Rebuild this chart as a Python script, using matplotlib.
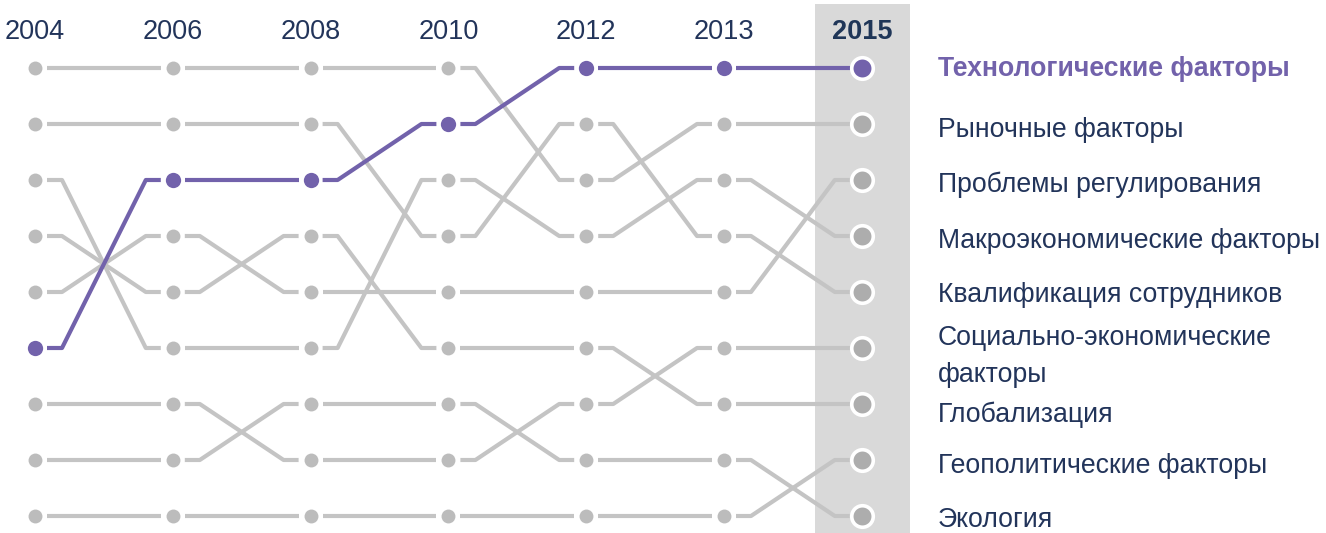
import numpy as np
import matplotlib
matplotlib.use("Agg")
import matplotlib.pyplot as plt

plt.rcParams['font.family'] = ['Liberation Sans', 'DejaVu Sans']

# ── Data ──────────────────────────────────────────────────────────────────────
years = ["2004", "2006", "2008", "2010", "2012", "2013", "2015"]

factors = [
    "Технологические факторы",
    "Рыночные факторы",
    "Проблемы регулирования",
    "Макроэкономические факторы",
    "Квалификация сотрудников",
    "Социально-экономические\nфакторы",
    "Глобализация",
    "Геополитические факторы",
    "Экология",
]

# rank of each factor in each survey year (1 = top)
rank_tech     = [6, 3, 3, 2, 1, 1, 1]
rank_market   = [1, 1, 1, 1, 3, 2, 2]
rank_regul    = [5, 4, 5, 5, 5, 5, 3]
rank_macro    = [3, 6, 6, 3, 4, 3, 4]
rank_skills   = [2, 2, 2, 4, 2, 4, 5]
rank_social   = [7, 7, 8, 8, 7, 6, 6]
rank_global   = [4, 5, 4, 6, 6, 7, 7]
rank_geopol   = [9, 9, 9, 9, 9, 9, 8]
rank_ecology  = [8, 8, 7, 7, 8, 8, 9]

ranks = [rank_tech, rank_market, rank_regul, rank_macro, rank_skills,
         rank_social, rank_global, rank_geopol, rank_ecology]

# ── Style ─────────────────────────────────────────────────────────────────────
GREY_LINE  = "#c4c4c4"
GREY_DOT   = "#bcbcbc"
GREY_LAST  = "#adadad"
PURPLE     = "#7262ab"
BAND       = "#d9d9d9"
TEXT       = "#22345a"
HIGHLIGHT  = 0          # index of highlighted factor

W, H, DPI = 1326, 533, 100
X0_PX, DX_PX = 35, 137.8     # first column, column step (px)
Y0_PX, DY_PX = 68, 56        # first row, row step (px)

fig = plt.figure(figsize=(W / DPI, H / DPI), dpi=DPI)
ax = fig.add_axes([0, 0, 1, 1])
ax.set_xlim(-X0_PX / DX_PX, (W - X0_PX) / DX_PX)
ax.set_ylim(1 + (H - Y0_PX) / DY_PX, 1 - Y0_PX / DY_PX)
ax.axis("off")

n = len(years)
xs = np.arange(n)
gap = 12 / DX_PX      # space between dot and line
stub = 15 / DX_PX     # flat part before the diagonal

# grey band behind the latest year
ax.axvspan(n - 1 - 47 / DX_PX, n - 1 + 48 / DX_PX, ymin=0, ymax=1 - 4 / H,
           color=BAND, lw=0, zorder=0)


def bump_segments(r):
    segs = []
    for i in range(n - 1):
        a, b = r[i], r[i + 1]
        sx = [i + gap, i + gap + stub, i + 1 - gap - stub, i + 1 - gap]
        sy = [a, a, b, b]
        segs.append((sx, sy))
    return segs


order = [k for k in range(len(factors)) if k != HIGHLIGHT] + [HIGHLIGHT]
for k in order:
    r = ranks[k]
    hl = k == HIGHLIGHT
    col = PURPLE if hl else GREY_LINE
    z = 5 if hl else 2
    for sx, sy in bump_segments(r):
        ax.plot(sx, sy, color=col, lw=3.0, solid_capstyle="butt",
                solid_joinstyle="round", zorder=z)
    ax.plot(xs[:-1], r[:-1], "o", ms=11 if hl else 10,
            color=PURPLE if hl else GREY_DOT, mew=0, zorder=z + 1)
    ax.plot(xs[-1], r[-1], "o", ms=15.5, mfc=PURPLE if hl else GREY_LAST,
            mec="white", mew=2.6, zorder=z + 1)

# year headers
for i, y in enumerate(years):
    last = i == n - 1
    ax.text(i, 1 - 36 / DY_PX, y, ha="center", va="center", fontsize=19.5,
            color="#1f3658" if last else TEXT,
            fontweight="bold" if last else "normal")

# factor labels in final order
label_dy = [1, 6, 5, 5, 3, 9, 11, 6, 4]   # px nudge per final rank
final = [r[-1] for r in ranks]
for k, name in enumerate(factors):
    fr = final[k]
    hl = k == HIGHLIGHT
    ax.text(n - 1 + (938 - 862) / DX_PX, fr + label_dy[fr - 1] / DY_PX, name,
            ha="left", va="center", fontsize=19.2, linespacing=1.55,
            color=PURPLE if hl else TEXT,
            fontweight="bold" if hl else "normal")

fig.savefig("out.png", dpi=DPI)
